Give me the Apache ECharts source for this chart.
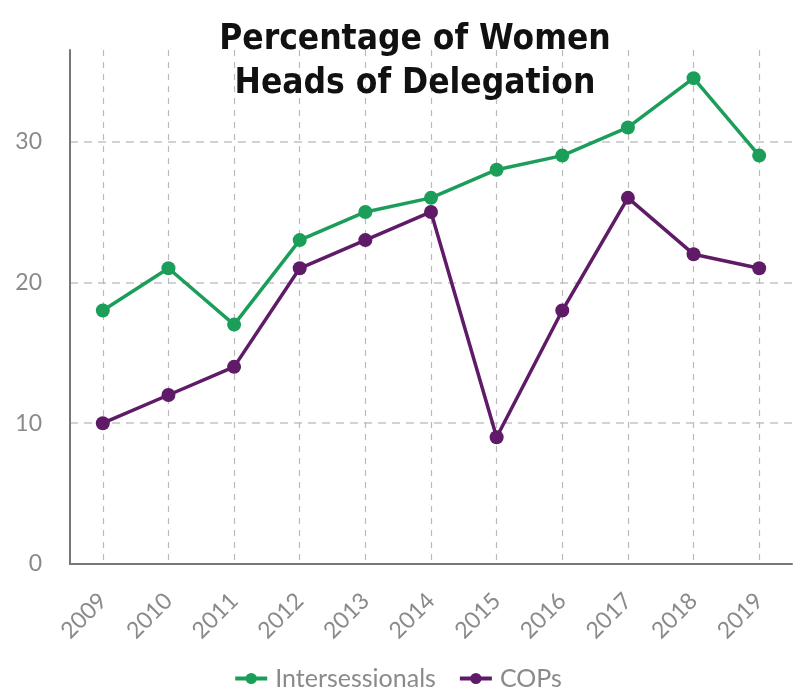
<!DOCTYPE html>
<html>
<head>
<meta charset="utf-8">
<script src="https://cdn.jsdelivr.net/npm/echarts@6/dist/echarts.min.js"></script>
<style>html,body{margin:0;padding:0;background:#fff}#c{width:795px;height:697px}</style>
</head>
<body>
<div id="c"></div>
<script>
const years = ['2009','2010','2011','2012','2013','2014','2015','2016','2017','2018','2019'];
const intersessionals = [18, 21, 17, 23, 25, 26, 28, 29, 31, 34.5, 29];
const cops = [10, 12, 14, 21, 23, 25, 9, 18, 26, 22, 21];
const yTicks = [0, 10, 20, 30];

const chart = echarts.init(document.getElementById('c'));
const green = '#1c9e5b';
const purple = '#5f1b68';
chart.setOption({
  backgroundColor: '#fff',
  animation: false,
  title: {
    text: 'Percentage of Women\nHeads of Delegation',
    left: 410, top: 13, textAlign: 'center',
    textStyle: { fontFamily: '"DejaVu Sans Condensed", "Liberation Sans Narrow", sans-serif', fontWeight: 'bold', fontSize: 35, lineHeight: 44, color: '#111' }
  },
  legend: {
    top: 666, left: 'center', itemWidth: 32, itemHeight: 14, itemGap: 22, padding: 0,
    textStyle: { fontFamily: 'Lato', fontSize: 25, color: '#8a8a8a', padding: [0, 0, 0, 3] },
    lineStyle: { width: 4 },
    data: ['Intersessionals', 'COPs']
  },
  grid: { left: 70, right: 3, top: 50, bottom: 133, containLabel: false },
  xAxis: {
    type: 'category', data: years, boundaryGap: true,
    axisLine: { lineStyle: { color: '#777', width: 2 } },
    axisTick: { show: false },
    axisLabel: { rotate: 45, margin: 33, fontFamily: 'Lato', fontSize: 23, color: '#8a8a8a' },
    splitLine: { show: true, alignWithLabel: true, lineStyle: { type: [6, 6], color: '#bbb', width: 1.2 } }
  },
  yAxis: {
    type: 'value', min: 0, max: 36.5, interval: 10,
    axisLine: { show: true, lineStyle: { color: '#777', width: 2 } },
    axisTick: { show: false },
    axisLabel: { showMaxLabel: false, margin: 28, fontFamily: 'Lato', fontSize: 23, color: '#8a8a8a',
      formatter: v => yTicks.includes(v) ? String(v) : '' },
    splitLine: { show: true, lineStyle: { type: [8, 6], width: 1.5, color: ['#c4c4c4','#c4c4c4','#c4c4c4','#c4c4c4','rgba(0,0,0,0)'] } }
  },
  series: [
    { name: 'Intersessionals', type: 'line', data: intersessionals, symbol: 'circle', symbolSize: 14,
      itemStyle: { color: green }, lineStyle: { color: green, width: 3.5 } },
    { name: 'COPs', type: 'line', data: cops, symbol: 'circle', symbolSize: 14,
      itemStyle: { color: purple }, lineStyle: { color: purple, width: 3.5 } }
  ]
});
</script>
</body>
</html>
